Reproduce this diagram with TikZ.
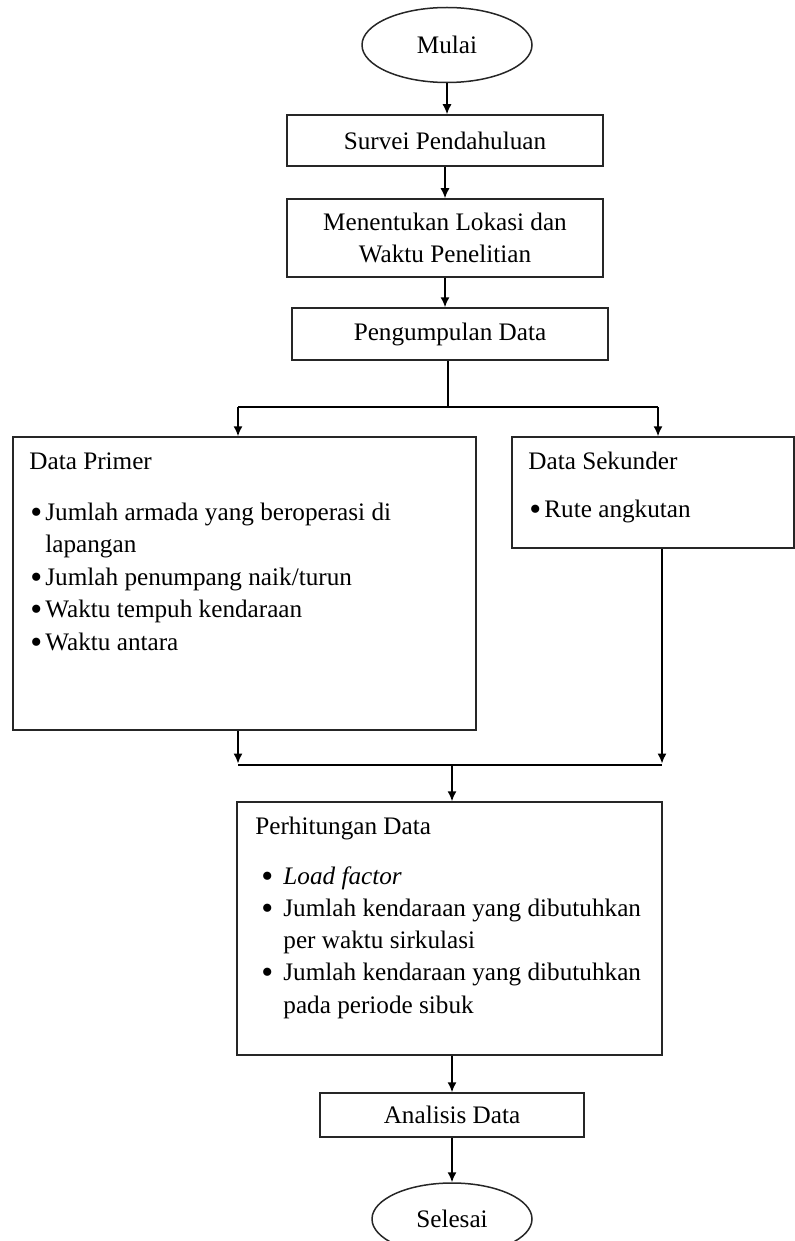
\documentclass[tikz,border=0pt]{standalone}
\usepackage{fontspec}
\setmainfont{Liberation Serif}
\usetikzlibrary{shapes.geometric,arrows.meta}
\newcommand{\bigbul}{\raisebox{-1.8pt}{\fontsize{17}{17}\selectfont\textbullet}}
\begin{document}
\begin{tikzpicture}[x=0.5pt,y=-0.5pt,
  every node/.style={font=\fontsize{12.6}{16.2}\selectfont, inner sep=0pt},
  box/.style={draw=black!85, line width=0.75pt, rectangle, align=center},
  term/.style={draw=black!85, line width=0.75pt, ellipse},
  arr/.style={line width=0.75pt, -{Latex[length=5pt,width=4.5pt]}},
  ln/.style={line width=0.75pt},
  txt/.style={anchor=base west},
]
\useasboundingbox (0,0) rectangle (795,1241);

% main flow
\node[term, minimum width=85pt, minimum height=37.5pt] (mulai) at (447,45) {Mulai};
\node[box, minimum width=158pt, minimum height=25.5pt] (survei) at (445,140.5) {Survei Pendahuluan};
\node[box, minimum width=158pt, minimum height=39pt] (lokasi) at (445,238) {Menentukan Lokasi dan\\Waktu Penelitian};
\node[box, minimum width=158pt, minimum height=26pt] (kumpul) at (450,334) {Pengumpulan Data};

\node[box, minimum width=231.5pt, minimum height=146.5pt] (primer) at (244.5,583.5) {};
\node[box, minimum width=141pt, minimum height=55.5pt] (sekunder) at (653,492.5) {};
\node[box, minimum width=212.5pt, minimum height=126.5pt] (hitung) at (449.5,928.5) {};
\node[box, minimum width=132pt, minimum height=22pt] (analisis) at (452,1115) {Analisis Data};
\node[term, minimum width=80pt, minimum height=36pt] (selesai) at (452,1219) {Selesai};

% Data Primer text
\node[txt] (pT) at (29,469) {Data Primer};
\node[txt] (pb1) at (30,520) {\bigbul};
\node[txt] (p1) at (45,520) {Jumlah armada yang beroperasi di};
\node[txt] (p1b) at (45,552) {lapangan};
\node[txt] (pb2) at (30,585) {\bigbul};
\node[txt] (p2) at (45,585) {Jumlah penumpang naik/turun};
\node[txt] (pb3) at (30,617) {\bigbul};
\node[txt] (p3) at (45,617) {Waktu tempuh kendaraan};
\node[txt] (pb4) at (30,650) {\bigbul};
\node[txt] (p4) at (45,650) {Waktu antara};

% Data Sekunder text
\node[txt] (sT) at (528,469) {Data Sekunder};
\node[txt] (sb1) at (529,517) {\bigbul};
\node[txt] (s1) at (544,517) {Rute angkutan};

% Perhitungan text
\node[txt] (hT) at (255,834) {Perhitungan Data};
\node[txt] (hb1) at (261,884) {\bigbul};
\node[txt] (h1) at (283,884) {\textit{Load factor}};
\node[txt] (hb2) at (261,916) {\bigbul};
\node[txt] (h2) at (283,916) {Jumlah kendaraan yang dibutuhkan};
\node[txt] (h2b) at (283,948) {per waktu sirkulasi};
\node[txt] (hb3) at (261,980) {\bigbul};
\node[txt] (h3) at (283,980) {Jumlah kendaraan yang dibutuhkan};
\node[txt] (h3b) at (283,1013) {pada periode sibuk};

% connectors
\draw[arr] (mulai.south) -- (mulai.south |- survei.north);
\draw[arr] (survei.south) -- (survei.south |- lokasi.north);
\draw[arr] (lokasi.south) -- (lokasi.south |- kumpul.north);

\coordinate (sp) at (448,407);
\coordinate (spL) at (238,407);
\coordinate (spR) at (658,407);
\draw[ln] (kumpul.south -| sp) -- (sp);
\draw[ln] (spL) -- (spR);
\draw[arr] (spL) -- (spL |- primer.north);
\draw[arr] (spR) -- (spR |- sekunder.north);

\coordinate (mL) at (238,765);
\coordinate (mR) at (662,765);
\coordinate (mM) at (452,765);
\draw[arr] (primer.south -| mL) -- ([yshift=0.75pt]mL);
\draw[arr] (sekunder.south -| mR) -- ([yshift=0.75pt]mR);
\draw[ln] (mL) -- (mR);
\draw[arr] (mM) -- (mM |- hitung.north);

\draw[arr] (hitung.south -| analisis.north) -- (analisis.north);
\draw[arr] (analisis.south) -- (selesai.north);
\end{tikzpicture}
\end{document}
